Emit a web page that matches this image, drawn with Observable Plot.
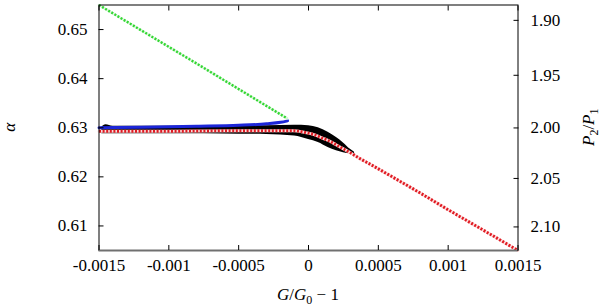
<!DOCTYPE html>
<html><head><meta charset="utf-8">
<script src="https://cdn.jsdelivr.net/npm/d3@7"></script>
<script src="https://cdn.jsdelivr.net/npm/@observablehq/plot@0.6"></script>
<style>
body{margin:0;background:#fff}
#chart{width:600px;height:306px}
</style>
</head><body><div id="chart"></div>
<script>
// ---- axes / ticks ----
const xDomain = [-0.0015, 0.0015];
const alphaDomain = [0.605, 0.655];
const xTicks = [-0.0015, -0.001, -0.0005, 0, 0.0005, 0.001, 0.0015];
const xTickLabels = ["-0.0015", "-0.001", "-0.0005", "0", "0.0005", "0.001", "0.0015"];
const alphaTicks = [0.61, 0.62, 0.63, 0.64, 0.65];
const alphaTickLabels = ["0.61", "0.62", "0.63", "0.64", "0.65"];
const ratioTicks = [1.90, 1.95, 2.00, 2.05, 2.10];
const ratioTickLabels = ["1.90", "1.95", "2.00", "2.05", "2.10"];

// ---- series ----
const greenX = [-0.0015, -0.00082, -0.000153];
const greenAlpha = [0.6550, 0.6434, 0.6319];

const blueX = [-0.0015, -0.0012, -0.0008, -0.0005, -0.0003, -0.0002, -0.00015];
const blueAlpha = [0.6300, 0.6301, 0.6303, 0.6305, 0.6308, 0.6311, 0.6314];

const redX = [-0.0015, -0.001, -0.0005, -0.0003, -0.0001, -0.00005, 0, 0.00005, 0.0001, 0.00015, 0.0002, 0.00025, 0.0003, 0.00037, 0.00044, 0.0006, 0.0008, 0.001, 0.0012, 0.0015];
const redAlpha = [0.6293, 0.6293, 0.6294, 0.6294, 0.6294, 0.6292, 0.6289, 0.6285, 0.6279, 0.6273, 0.6265, 0.6257, 0.6249, 0.6237, 0.6226, 0.6200, 0.6167, 0.6133, 0.6100, 0.6050];

const blackX = [-0.00148, -0.00145, -0.0014, -0.001, -0.0005, -0.0003, -0.0001, 0, 0.00007, 0.00014, 0.0002, 0.00025, 0.0003, 0.00033];
const blackLow = [0.6288, 0.6288, 0.6288, 0.6288, 0.6287, 0.6286, 0.6283, 0.6276, 0.6270, 0.6260, 0.6253, 0.6249, 0.6247, 0.6247];
const blackHigh = [0.6301, 0.6306, 0.6303, 0.6303, 0.6303, 0.6304, 0.6305, 0.6304, 0.6300, 0.6291, 0.6280, 0.6269, 0.6256, 0.6250];

// P2/P1 -> alpha = (P2/P1)^(-2/3)
const ratioAlpha = ratioTicks.map(r => Math.pow(r, -2 / 3));

const green = greenX.map((x, i) => ({x, y: greenAlpha[i]}));
const blue = blueX.map((x, i) => ({x, y: blueAlpha[i]}));
const red = redX.map((x, i) => ({x, y: redAlpha[i]}));
const black = blackX.map((x, i) => ({x, y1: blackLow[i], y2: blackHigh[i]}));

const FONT = "'Liberation Serif', 'Times New Roman', serif";

const chart = Plot.plot({
  width: 600, height: 306,
  marginLeft: 98.5, marginRight: 82.5, marginTop: 4.5, marginBottom: 56,
  x: {domain: xDomain},
  y: {domain: alphaDomain},
  style: {fontFamily: FONT, fontSize: "17px", color: "black", background: "white"},
  marks: [
    Plot.areaY(black, {x: "x", y1: "y1", y2: "y2", fill: "black", curve: "monotone-x"}),
    Plot.line(red, {x: "x", y: "y", stroke: "#fcdcdc", strokeWidth: 3, curve: "monotone-x"}),
    Plot.line(red, {x: "x", y: "y", stroke: "#e01a22", strokeWidth: 3, strokeDasharray: "2,1.6", strokeLinecap: "butt", curve: "monotone-x"}),
    Plot.line(blue, {x: "x", y: "y", stroke: "#1c26d8", strokeWidth: 3, curve: "monotone-x"}),
    Plot.line(green, {x: "x", y: "y", stroke: "#dcf8dc", strokeWidth: 2.5}),
    Plot.line(green, {x: "x", y: "y", stroke: "#33d633", strokeWidth: 2.5, strokeDasharray: "2,1.6", strokeLinecap: "butt"}),
    Plot.frame({stroke: "black"}),
    Plot.ruleY([alphaDomain[0]], {stroke: "#707070", strokeWidth: 2}),
    Plot.axisY({anchor: "left", ticks: alphaTicks, tickSize: -5, tickPadding: 16.5,
      tickFormat: d => alphaTickLabels[alphaTicks.indexOf(d)], label: null}),
    Plot.axisY(ratioAlpha, {anchor: "right", tickSize: -5, tickPadding: 17.5,
      tickFormat: d => ratioTickLabels[ratioAlpha.indexOf(d)], label: null}),
    Plot.axisX({anchor: "bottom", ticks: xTicks, tickSize: -5, tickPadding: 13,
      tickFormat: d => xTickLabels[xTicks.indexOf(d)], label: null}),
    Plot.axisX({anchor: "top", ticks: xTicks, tickSize: -5, tickFormat: () => "", label: null})
  ]
});
document.getElementById("chart").appendChild(chart);

const svg = d3.select(chart);
// axis titles
const midY = (4.5 + 250) / 2;
svg.append("text").attr("transform", `translate(15,${midY}) rotate(-90)`)
  .attr("text-anchor", "middle").attr("font-style", "italic").attr("font-size", 17)
  .style("font-family", FONT).text("α");
const r = svg.append("text").attr("transform", `translate(594,${midY}) rotate(-90)`)
  .attr("text-anchor", "middle").attr("font-size", 17).style("font-family", FONT);
r.append("tspan").attr("font-style", "italic").text("P");
r.append("tspan").attr("font-size", 12).attr("dy", 4).text("2");
r.append("tspan").attr("dy", -4).text("/");
r.append("tspan").attr("font-style", "italic").text("P");
r.append("tspan").attr("font-size", 12).attr("dy", 4).text("1");
const t = svg.append("text").attr("x", 308).attr("y", 300).attr("text-anchor", "middle")
  .attr("font-size", 17).style("font-family", FONT);
t.append("tspan").attr("font-style", "italic").text("G");
t.append("tspan").text("/");
t.append("tspan").attr("font-style", "italic").text("G");
t.append("tspan").attr("font-size", 12).attr("dy", 4).text("0");
t.append("tspan").attr("dy", -4).text(" − 1");
</script>
</body></html>
